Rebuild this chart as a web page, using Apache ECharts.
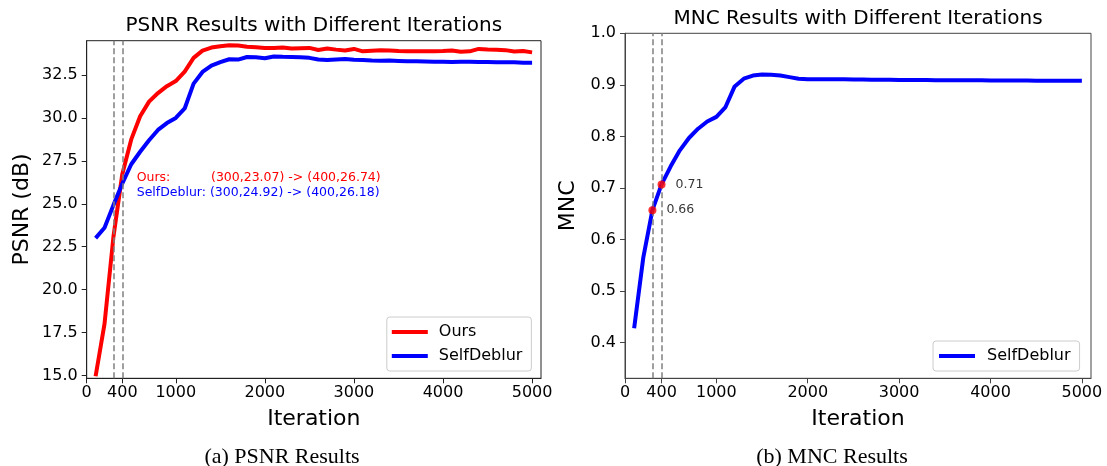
<!DOCTYPE html>
<html>
<head>
<meta charset="utf-8">
<title>PSNR / MNC vs Iteration</title>
<script src="https://cdn.jsdelivr.net/npm/echarts@6.0.0/dist/echarts.min.js"></script>
<style>
  html, body { margin: 0; padding: 0; background: #fff; }
  #main { width: 1107px; height: 466px; }
</style>
</head>
<body>
<div id="main"></div>
<script>
// ---- data ----
var iterations = [100, 200, 300, 400, 500, 600, 700, 800, 900, 1000,
  1100, 1200, 1300, 1400, 1500, 1600, 1700, 1800, 1900, 2000,
  2100, 2200, 2300, 2400, 2500, 2600, 2700, 2800, 2900, 3000,
  3100, 3200, 3300, 3400, 3500, 3600, 3700, 3800, 3900, 4000,
  4100, 4200, 4300, 4400, 4500, 4600, 4700, 4800, 4900, 5000];

var psnrOurs = [14.95, 18.0, 23.07, 26.74, 28.75, 30.1, 30.95, 31.45, 31.85, 32.15,
  32.7, 33.5, 33.92, 34.1, 34.18, 34.23, 34.22, 34.15, 34.12, 34.08,
  34.07, 34.1, 34.04, 34.06, 34.08, 33.96, 34.04, 33.98, 33.93, 34.02,
  33.88, 33.92, 33.95, 33.93, 33.9, 33.88, 33.89, 33.88, 33.88, 33.9,
  33.93, 33.86, 33.88, 34.02, 33.99, 33.97, 33.95, 33.87, 33.9, 33.82];

var psnrSelfDeblur = [23.0, 23.6, 24.92, 26.18, 27.3, 28.03, 28.7, 29.3, 29.7, 30.0,
  30.55, 32.0, 32.68, 33.05, 33.25, 33.42, 33.4, 33.55, 33.53, 33.48,
  33.58, 33.56, 33.55, 33.54, 33.5, 33.4, 33.37, 33.4, 33.43, 33.39,
  33.38, 33.35, 33.33, 33.34, 33.32, 33.3, 33.3, 33.29, 33.28, 33.28,
  33.26, 33.27, 33.28, 33.26, 33.26, 33.25, 33.25, 33.24, 33.22, 33.22];

var mncSelfDeblur = [0.428, 0.565, 0.657, 0.707, 0.742, 0.773, 0.797, 0.815, 0.829, 0.838,
  0.857, 0.897, 0.912, 0.918, 0.92, 0.9195, 0.918, 0.915, 0.912, 0.911,
  0.911, 0.911, 0.911, 0.911, 0.9105, 0.9105, 0.910, 0.910, 0.910, 0.9095,
  0.9095, 0.9095, 0.9095, 0.909, 0.909, 0.909, 0.909, 0.909, 0.909, 0.9085,
  0.9085, 0.9085, 0.9085, 0.9085, 0.908, 0.908, 0.908, 0.908, 0.908, 0.908];

var markedIters = [300, 400];
var xTicks = [0, 400, 1000, 2000, 3000, 4000, 5000];
var psnrTicks = [15, 17.5, 20, 22.5, 25, 27.5, 30, 32.5];
var mncTicks = [0.4, 0.5, 0.6, 0.7, 0.8, 0.9, 1.0];

var FONT = '"DejaVu Sans", sans-serif';

function pairs(xs, ys) {
  return xs.map(function (x, i) { return [x, ys[i]]; });
}
function valueAt(ys, it) {
  return ys[iterations.indexOf(it)];
}
function arrow(ys) {
  var a = markedIters[0], b = markedIters[1];
  return '(' + a + ',' + valueAt(ys, a).toFixed(2) + ') -> (' + b + ',' + valueAt(ys, b).toFixed(2) + ')';
}

function xAxisFor(gi, spine) {
  return {
    type: 'value', gridIndex: gi, min: 0, max: 5100,
    name: 'Iteration', nameLocation: 'middle', nameGap: 30,
    nameTextStyle: { fontSize: 22, color: '#000', fontFamily: FONT },
    axisLine: { onZero: false, lineStyle: { color: spine, width: 1 } },
    axisTick: { customValues: xTicks, length: 5, lineStyle: { color: spine } },
    axisLabel: {
      customValues: xTicks, fontSize: 16, color: '#000', margin: 7, fontFamily: FONT,
      formatter: function (v) { return String(v); }
    },
    splitLine: { show: false }
  };
}
function yAxisFor(gi, spine, min, max, ticks, name, gap) {
  return {
    type: 'value', gridIndex: gi, min: min, max: max,
    name: name, nameLocation: 'middle', nameGap: gap,
    nameTextStyle: { fontSize: 22, color: '#000', fontFamily: FONT },
    axisLine: { lineStyle: { color: spine, width: 1 } },
    axisTick: { customValues: ticks, length: 5, lineStyle: { color: spine } },
    axisLabel: {
      customValues: ticks, fontSize: 16, color: '#000', margin: 9, fontFamily: FONT,
      formatter: function (v) { return v.toFixed(1); }
    },
    splitLine: { show: false }
  };
}

var dashed = {
  silent: true, symbol: ['none', 'none'], label: { show: false },
  lineStyle: { color: '#808080', width: 1.5, type: [6, 3] },
  data: markedIters.map(function (it) { return { xAxis: it }; })
};

var chart = echarts.init(document.getElementById('main'));
var option = {
  animation: false,
  backgroundColor: '#fff',
  grid: [
    { left: 86.7, top: 40.7, width: 454.3, height: 337.6, show: true, borderColor: '#222', borderWidth: 1 },
    { left: 625, top: 33.3, width: 466, height: 345, show: true, borderColor: '#444', borderWidth: 1 }
  ],
  xAxis: [xAxisFor(0, '#222'), xAxisFor(1, '#444')],
  yAxis: [
    yAxisFor(0, '#222', 14.83, 34.5, psnrTicks, 'PSNR (dB)', 53),
    yAxisFor(1, '#444', 0.331, 1.0, mncTicks, 'MNC', 46)
  ],
  legend: [
    {
      data: ['Ours', 'SelfDeblur'], orient: 'vertical', left: 386.8, top: 317,
      icon: 'rect', itemWidth: 36, itemHeight: 4, itemGap: 8,
      padding: [7, 9, 7, 5], backgroundColor: 'rgba(255,255,255,0.8)',
      borderColor: '#cccccc', borderWidth: 1, borderRadius: 3,
      textStyle: { fontSize: 16, color: '#000', fontFamily: FONT, padding: [0, 0, 0, 6] },
      selectedMode: false
    },
    {
      data: ['SelfDeblur'], orient: 'vertical', left: 933, top: 341,
      icon: 'rect', itemWidth: 36, itemHeight: 4,
      padding: [7, 9, 7, 6], backgroundColor: 'rgba(255,255,255,0.8)',
      borderColor: '#cccccc', borderWidth: 1, borderRadius: 3,
      textStyle: { fontSize: 16, color: '#000', fontFamily: FONT, padding: [0, 0, 0, 7] },
      selectedMode: false
    }
  ],
  series: [
    {
      name: 'Ours', type: 'line', xAxisIndex: 0, yAxisIndex: 0,
      data: pairs(iterations, psnrOurs), showSymbol: false, symbol: 'none',
      lineStyle: { color: '#ff0000', width: 4 }, itemStyle: { color: '#ff0000' },
      markLine: dashed
    },
    {
      name: 'SelfDeblur', type: 'line', xAxisIndex: 0, yAxisIndex: 0,
      data: pairs(iterations, psnrSelfDeblur), showSymbol: false, symbol: 'none',
      lineStyle: { color: '#0000ff', width: 4 }, itemStyle: { color: '#0000ff' }
    },
    {
      name: 'SelfDeblur', type: 'line', xAxisIndex: 1, yAxisIndex: 1,
      data: pairs(iterations, mncSelfDeblur), showSymbol: false, symbol: 'none',
      lineStyle: { color: '#0000ff', width: 4 }, itemStyle: { color: '#0000ff' },
      markLine: dashed
    },
    {
      name: 'marked', type: 'scatter', xAxisIndex: 1, yAxisIndex: 1, z: 5,
      data: markedIters.map(function (it) { return [it, valueAt(mncSelfDeblur, it)]; }),
      symbolSize: 8, itemStyle: { color: '#ff0000' },
      label: {
        show: true, position: 'right', distance: 10, color: '#000', fontSize: 12.5, fontFamily: FONT,
        formatter: function (p) { return p.value[1].toFixed(2); }
      }
    }
  ],
  graphic: [
    { type: 'text', x: 313.8, y: 25.8, style: { text: 'PSNR Results with Different Iterations', fill: '#000',
      font: '20px "DejaVu Sans"', textAlign: 'center', textVerticalAlign: 'middle' } },
    { type: 'text', x: 858, y: 19.2, style: { text: 'MNC Results with Different Iterations', fill: '#000',
      font: '20px "DejaVu Sans"', textAlign: 'center', textVerticalAlign: 'middle' } },
    { type: 'text', x: 136.7, y: 177.5, style: { text: 'Ours:', fill: '#ff0000',
      font: '12.5px "DejaVu Sans"', textAlign: 'left', textVerticalAlign: 'middle' } },
    { type: 'text', x: 211, y: 177.5, style: { text: arrow(psnrOurs), fill: '#ff0000',
      font: '12.5px "DejaVu Sans"', textAlign: 'left', textVerticalAlign: 'middle' } },
    { type: 'text', x: 136.7, y: 192.3, style: { text: 'SelfDeblur: ' + arrow(psnrSelfDeblur), fill: '#0000ff',
      font: '12.5px "DejaVu Sans"', textAlign: 'left', textVerticalAlign: 'middle' } },
    { type: 'text', x: 282, y: 457, style: { text: '(a) PSNR Results', fill: '#000',
      font: '22px "Liberation Serif"', textAlign: 'center', textVerticalAlign: 'middle' } },
    { type: 'text', x: 832, y: 457, style: { text: '(b) MNC Results', fill: '#000',
      font: '22px "Liberation Serif"', textAlign: 'center', textVerticalAlign: 'middle' } }
  ]
};
chart.setOption(option);
</script>
</body>
</html>
